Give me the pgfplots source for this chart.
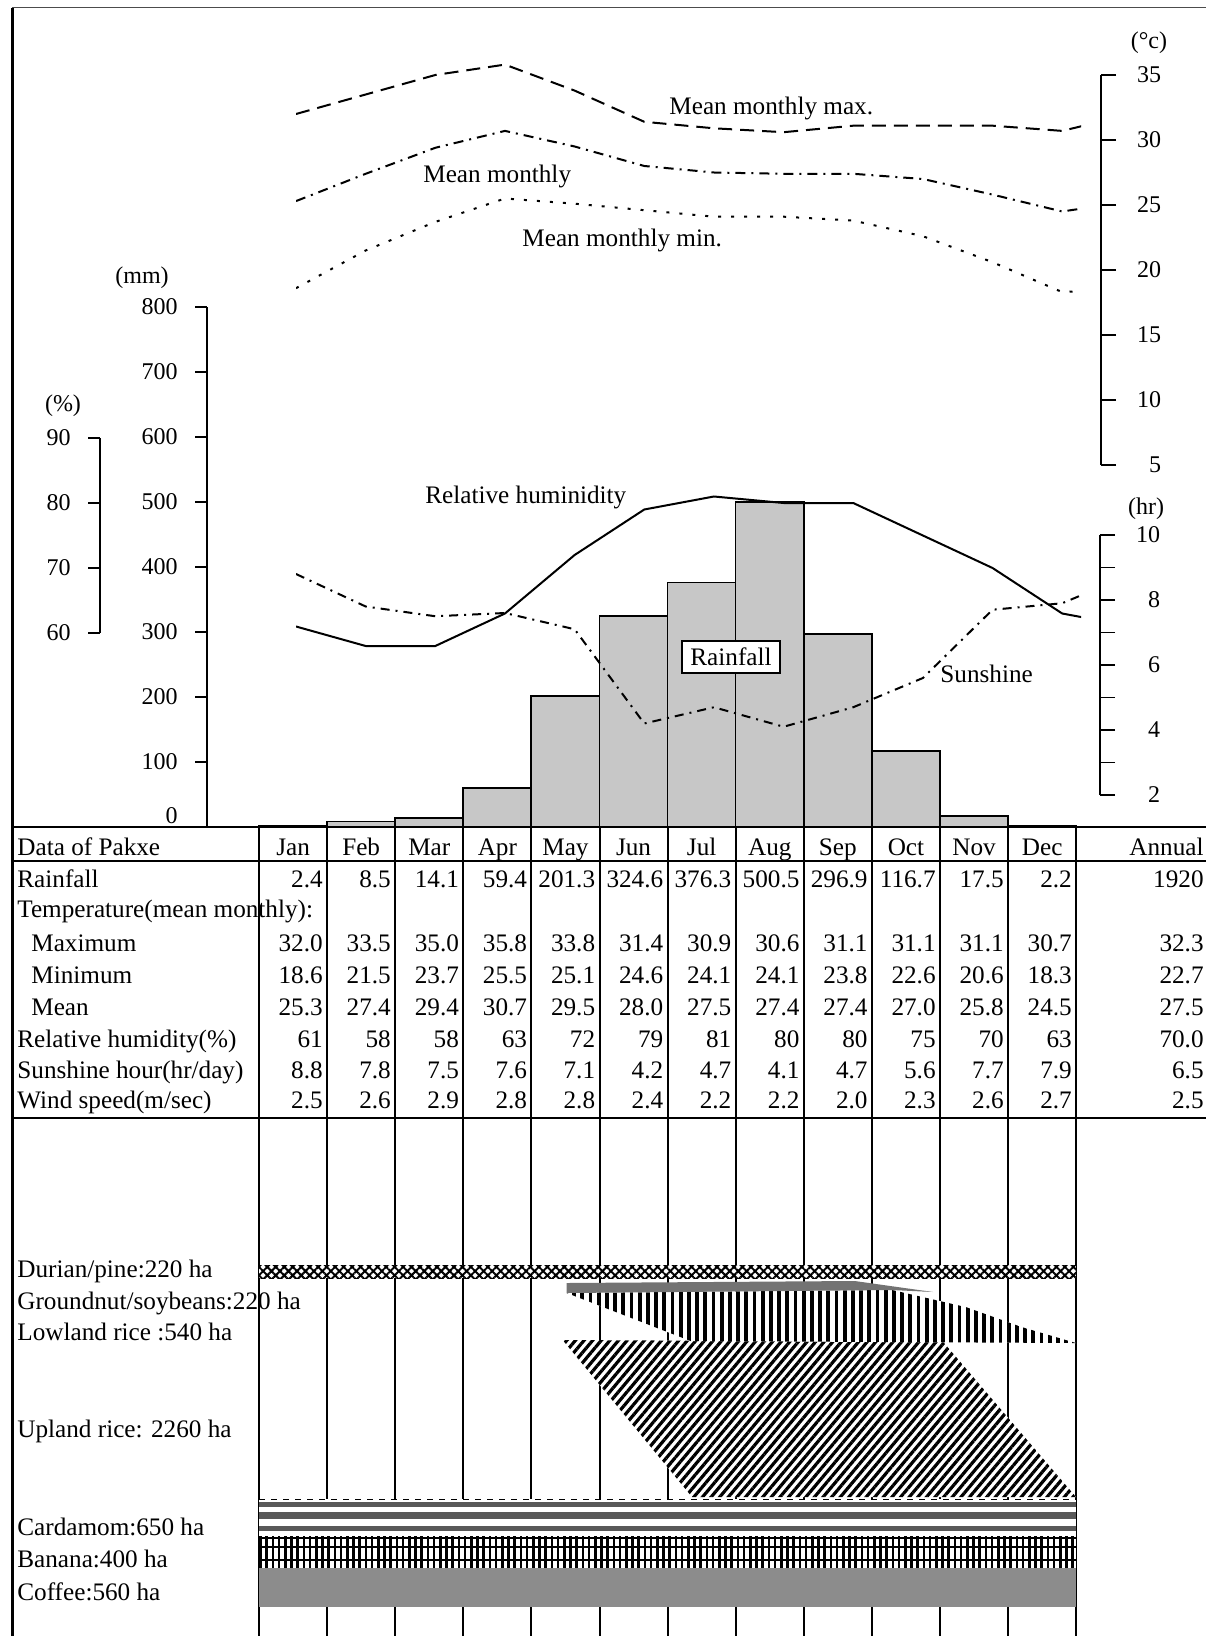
\documentclass[border=0pt]{standalone}
\usepackage{fontspec}
\setmainfont{Liberation Serif}
\usepackage{pgfplots}
\pgfplotsset{compat=1.18}
\usetikzlibrary{patterns.meta}

\newcommand{\tf}{\fontsize{12.6pt}{15pt}\selectfont}
\newcommand{\kf}{\fontsize{12pt}{14pt}\selectfont}

\pgfplotsset{
  dataax/.style={scale only axis, hide axis, anchor=south west, clip=true},
  lineax/.style={dataax, width=392.5pt, xmin=1, xmax=12.27},
  scaleax/.style={scale only axis, width=0.2pt, xmin=0, xmax=1, hide x axis,
    major tick style={line width=0.9pt, black},
    minor tick style={line width=0.9pt, black},
    /pgf/number format/assume math mode=true},
  plainline/.style={
    every outer y axis line/.append style={-},
    every inner y axis line/.append style={-},
    axis line style={-, line width=1pt},
    ytick align=outside},
  leftlabels/.style={yticklabel style={font=\kf, inner sep=0pt, anchor=east, xshift=-8.5pt}},
  rightlabels/.style={yticklabel style={font=\kf, inner sep=0pt, anchor=east, xshift=22.75pt}},
}

\begin{document}
\begin{tikzpicture}
\begin{scope}[x=0.5pt, y=-0.5pt, every node/.style={inner sep=0pt}]
  \useasboundingbox (0,0) rectangle (1206,1636);
  % anchor points of the axes
  \coordinate (rainSW) at (259,827);
  \coordinate (rainAx) at (207,827);
  \coordinate (humAx)  at (100,633);
  \coordinate (tmpAx)  at (1101,465);
  \coordinate (sunAx)  at (1100,795);
  \coordinate (tmpSW)  at (296,465);
  \coordinate (humSW)  at (296,698);
  \coordinate (sunSW)  at (296,860);
  \coordinate (cropSW) at (259,1636);

  % frame
  \draw[line width=0.5pt, black!70] (12,8) -- (1206,8);
  \draw[line width=1.5pt] (12,8) -- (12,1636);

  % table rules
  \foreach \yy in {827,861,1118} \draw[line width=1pt] (12,\yy) -- (1206,\yy);
  \foreach \k in {0,...,12} \draw[line width=1pt] ({259+68.1*\k},827) -- ({259+68.1*\k},1636);

  % table header
  \node[font=\tf, anchor=base west] at (17,855) {Data of Pakxe};
  \foreach \m [count=\i] in {Jan,Feb,Mar,Apr,May,Jun,Jul,Aug,Sep,Oct,Nov,Dec}
    \node[font=\tf, anchor=base] at ({259+68.1*(\i-0.5)},855) {\m};
  \node[font=\tf, anchor=base east] at (1204,855) {Annual};

  % table body
  \node[font=\tf, anchor=base west] at (17,887) {Rainfall};
  \node[font=\tf, anchor=base west] at (17,917) {Temperature(mean monthly):};
  \node[font=\tf, anchor=base west] at (31,951) {Maximum};
  \node[font=\tf, anchor=base west] at (31,983) {Minimum};
  \node[font=\tf, anchor=base west] at (31,1015) {Mean};
  \node[font=\tf, anchor=base west] at (17,1047) {Relative humidity(\%)};
  \node[font=\tf, anchor=base west] at (17,1078) {Sunshine hour(hr/day)};
  \node[font=\tf, anchor=base west] at (17,1108) {Wind speed(m/sec)};

  \foreach \v [count=\i] in {2.4,8.5,14.1,59.4,201.3,324.6,376.3,500.5,296.9,116.7,17.5,2.2}
    \node[font=\tf, anchor=base east] at ({259+68.1*\i-4},887) {\v};
  \foreach \v [count=\i] in {32.0,33.5,35.0,35.8,33.8,31.4,30.9,30.6,31.1,31.1,31.1,30.7}
    \node[font=\tf, anchor=base east] at ({259+68.1*\i-4},951) {\v};
  \foreach \v [count=\i] in {18.6,21.5,23.7,25.5,25.1,24.6,24.1,24.1,23.8,22.6,20.6,18.3}
    \node[font=\tf, anchor=base east] at ({259+68.1*\i-4},983) {\v};
  \foreach \v [count=\i] in {25.3,27.4,29.4,30.7,29.5,28.0,27.5,27.4,27.4,27.0,25.8,24.5}
    \node[font=\tf, anchor=base east] at ({259+68.1*\i-4},1015) {\v};
  \foreach \v [count=\i] in {61,58,58,63,72,79,81,80,80,75,70,63}
    \node[font=\tf, anchor=base east] at ({259+68.1*\i-4},1047) {\v};
  \foreach \v [count=\i] in {8.8,7.8,7.5,7.6,7.1,4.2,4.7,4.1,4.7,5.6,7.7,7.9}
    \node[font=\tf, anchor=base east] at ({259+68.1*\i-4},1078) {\v};
  \foreach \v [count=\i] in {2.5,2.6,2.9,2.8,2.8,2.4,2.2,2.2,2.0,2.3,2.6,2.7}
    \node[font=\tf, anchor=base east] at ({259+68.1*\i-4},1108) {\v};
  \node[font=\tf, anchor=base east] at (1204,887) {1920};
  \node[font=\tf, anchor=base east] at (1204,951) {32.3};
  \node[font=\tf, anchor=base east] at (1204,983) {22.7};
  \node[font=\tf, anchor=base east] at (1204,1015) {27.5};
  \node[font=\tf, anchor=base east] at (1204,1047) {70.0};
  \node[font=\tf, anchor=base east] at (1204,1078) {6.5};
  \node[font=\tf, anchor=base east] at (1204,1108) {2.5};

  % crop labels
  \node[font=\tf, anchor=base west] at (17,1277) {Durian/pine:220 ha};
  \node[font=\tf, anchor=base west] at (17,1309) {Groundnut/soybeans:220 ha};
  \node[font=\tf, anchor=base west] at (17,1340) {Lowland rice :540 ha};
  \node[font=\tf, anchor=base west] at (17,1437) {Upland rice: 2260 ha};
  \node[font=\tf, anchor=base west] at (17,1535) {Cardamom:650 ha};
  \node[font=\tf, anchor=base west] at (17,1567) {Banana:400 ha};
  \node[font=\tf, anchor=base west] at (17,1600) {Coffee:560 ha};
\end{scope}

% ---------- rainfall bars ----------
\begin{axis}[dataax, clip=false, at={(rainSW)}, width=408.5pt, height=260pt,
  xmin=0.5, xmax=12.5, ymin=0, ymax=800]
  \addplot[ybar, bar width=1, fill=black!22, draw=black, line width=0.9pt]
    coordinates {(1,2.4)(2,8.5)(3,14.1)(4,59.4)(5,201.3)(6,324.6)
                 (7,376.3)(8,500.5)(9,296.9)(10,116.7)(11,17.5)(12,2.2)};
\end{axis}

% ---------- scales ----------
\begin{axis}[scaleax, at={(rainAx)}, anchor=south west, height=260pt,
  ymin=0, ymax=800, axis y line=left, plainline, leftlabels, major tick length=6pt,
  ytick={100,200,...,800}, extra y ticks={0},
  extra y tick style={yticklabel style={yshift=5.5pt}}]
\end{axis}
\begin{axis}[scaleax, at={(humAx)}, anchor=south west, height=97.5pt,
  ymin=60, ymax=90, axis y line=left, plainline, leftlabels, major tick length=6pt,
  ytick={60,70,80,90}]
\end{axis}
\begin{axis}[scaleax, at={(tmpAx)}, anchor=south east, height=195pt,
  ymin=5, ymax=35, axis y line=right, plainline, rightlabels, major tick length=7.5pt,
  ytick={5,10,...,35}]
\end{axis}
\begin{axis}[scaleax, at={(sunAx)}, anchor=south east, height=130pt,
  ymin=2, ymax=10, axis y line=right, plainline, rightlabels, major tick length=7.5pt,
  minor tick length=7.5pt, ytick={2,4,...,10}, minor ytick={3,5,7,9}]
\end{axis}

% ---------- temperature ----------
\begin{axis}[lineax, at={(tmpSW)}, height=227.5pt, ymin=5, ymax=40]
  \addplot[black, line width=1pt, dash pattern=on 7pt off 4pt]
    coordinates {(1,32.0)(2,33.5)(3,35.0)(4,35.8)(5,33.8)(6,31.4)(7,30.9)
                 (8,30.6)(9,31.1)(10,31.1)(11,31.1)(12,30.7)(13,32.0)};
  \addplot[black, line width=1pt, dash pattern=on 5pt off 3pt on 1pt off 3pt]
    coordinates {(1,25.3)(2,27.4)(3,29.4)(4,30.7)(5,29.5)(6,28.0)(7,27.5)
                 (8,27.4)(9,27.4)(10,27.0)(11,25.8)(12,24.5)(13,25.3)};
  \addplot[black, line width=1pt, dash pattern=on 1.5pt off 5pt]
    coordinates {(1,18.6)(2,21.5)(3,23.7)(4,25.5)(5,25.1)(6,24.6)(7,24.1)
                 (8,24.1)(9,23.8)(10,22.6)(11,20.6)(12,18.3)(13,18.6)};
\end{axis}

% ---------- relative humidity ----------
\begin{axis}[lineax, at={(humSW)}, height=130pt, ymin=50, ymax=90]
  \addplot[black, line width=1pt]
    coordinates {(1,61)(2,58)(3,58)(4,63)(5,72)(6,79)(7,81)
                 (8,80)(9,80)(10,75)(11,70)(12,63)(13,61)};
\end{axis}

% ---------- sunshine ----------
\begin{axis}[lineax, at={(sunSW)}, height=195pt, ymin=0, ymax=12]
  \addplot[black, line width=1pt, dash pattern=on 4.5pt off 3pt on 1pt off 3pt]
    coordinates {(1,8.8)(2,7.8)(3,7.5)(4,7.6)(5,7.1)(6,4.2)(7,4.7)
                 (8,4.1)(9,4.7)(10,5.6)(11,7.7)(12,7.9)(13,8.8)};
\end{axis}

% ---------- crop calendar ----------
\begin{axis}[dataax, clip=false, at={(cropSW)}, width=408.5pt, height=259pt,
  xmin=0, xmax=12, ymin=1118, ymax=1636, y dir=reverse]
  % durian / pineapple
  \addplot[draw=none, preaction={fill=white},
    pattern={Hatch[angle=45, distance=3pt, line width=1pt]}]
    coordinates {(0,1265)(12,1265)(12,1278)(0,1278)} -- cycle;
  % lowland / upland rice
  \addplot[draw=none, preaction={fill=white},
    pattern={Lines[angle=50, distance=3.3pt, line width=1.6pt]}]
    coordinates {(4.46,1340)(10.05,1342)(12,1497)(6.36,1497)} -- cycle;
  % groundnut / soybeans
  \addplot[draw=none, preaction={fill=white},
    pattern={Lines[angle=90, distance=4.1pt, line width=1.9pt]}]
    coordinates {(4.52,1293)(9.3,1290)(10.38,1307)(11.2,1327)(12,1343)(6.34,1341)} -- cycle;
  \addplot[draw=none, fill=black!55]
    coordinates {(4.52,1283)(8.75,1281)(9.9,1292)(9.3,1290)(4.52,1293)} -- cycle;
  % perennial bands
  \addplot[draw=none, fill=white] coordinates {(0,1499)(12,1499)(12,1607)(0,1607)} -- cycle;
  \addplot[black, dashed, line width=0.5pt] coordinates {(0,1499)(12,1499)};
  \addplot[draw=none, fill=black!65] coordinates {(0,1502)(12,1502)(12,1507)(0,1507)} -- cycle;
  \addplot[draw=none, fill=black!65] coordinates {(0,1512)(12,1512)(12,1519)(0,1519)} -- cycle;
  \addplot[draw=none, fill=black!65] coordinates {(0,1526)(12,1526)(12,1531)(0,1531)} -- cycle;
  \addplot[draw=none, pattern={Lines[angle=90, distance=3.1pt, line width=1.3pt]}]
    coordinates {(0,1536)(12,1536)(12,1568)(0,1568)} -- cycle;
  \addplot[black, line width=0.8pt] coordinates {(0,1538)(12,1538)};
  \addplot[black, line width=0.8pt] coordinates {(0,1547)(12,1547)};
  \addplot[black, line width=0.8pt] coordinates {(0,1560)(12,1560)};
  \addplot[draw=none, fill=black!45] coordinates {(0,1568)(12,1568)(12,1607)(0,1607)} -- cycle;
\end{axis}

% ---------- labels on the chart ----------
\begin{scope}[x=0.5pt, y=-0.5pt, every node/.style={inner sep=0pt}]
  \node[font=\tf, anchor=base west] at (669,115) {Mean monthly max.};
  \node[font=\tf, anchor=base west] at (423,183) {Mean monthly};
  \node[font=\tf, anchor=base west] at (522,247) {Mean monthly min.};
  \node[font=\tf, anchor=base west] at (425,503) {Relative huminidity};
  \node[font=\tf, anchor=base west] at (940,682) {Sunshine};
  \node[font=\tf, draw, fill=white, line width=1pt, inner xsep=4pt, inner ysep=3.5pt] at (731,657) {Rainfall};
  \node[font=\kf] at (1149,43) {(°c)};
  \node[font=\kf] at (1146,509) {(hr)};
  \node[font=\kf] at (142,278) {(mm)};
  \node[font=\kf] at (63,406) {(\%)};
\end{scope}
\end{tikzpicture}
\end{document}
